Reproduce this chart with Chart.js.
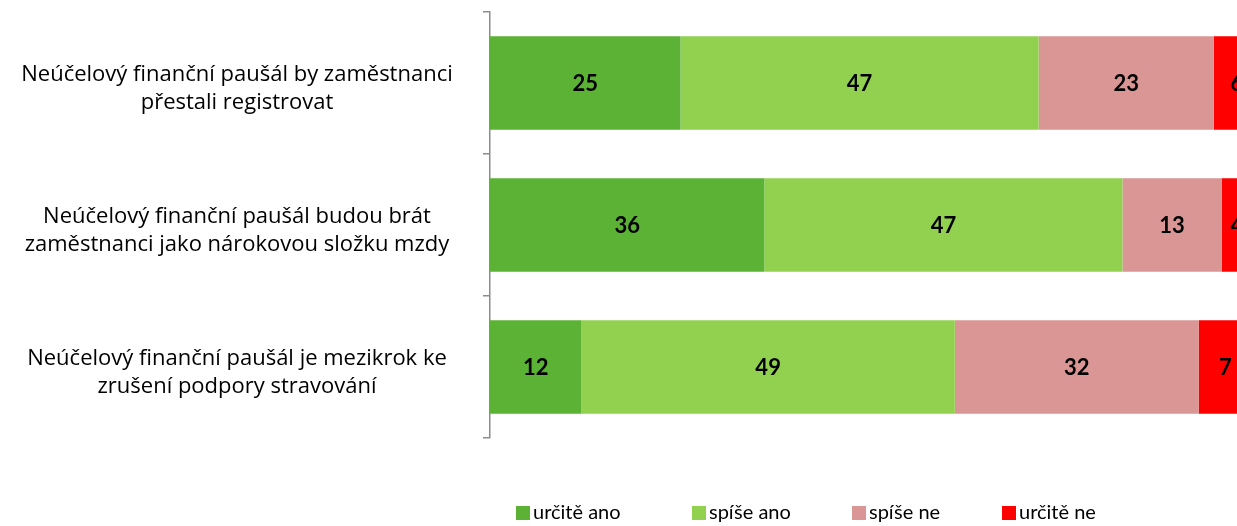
<!DOCTYPE html>
<html>
<head>
<meta charset="utf-8">
<script src="https://cdn.jsdelivr.net/npm/chart.js@4/dist/chart.umd.min.js"></script>
<style>
  html, body { margin: 0; padding: 0; background: #fff; overflow: hidden; }
  #wrap { width: 1260px; height: 526px; }
</style>
</head>
<body>
<div id="wrap"><canvas id="c"></canvas></div>
<script>
var categories = [
    ['Neúčelový finanční paušál by zaměstnanci', 'přestali registrovat'],
    ['Neúčelový finanční paušál budou brát', 'zaměstnanci jako nárokovou složku mzdy'],
    ['Neúčelový finanční paušál je mezikrok ke', 'zrušení podpory stravování']
];
var seriesNames = ['určitě ano', 'spíše ano', 'spíše ne', 'určitě ne'];
var urciteAno = [25, 36, 12];
var spiseAno = [47, 47, 49];
var spiseNe = [23, 13, 32];
var urciteNe = [6, 4, 7];
var colors = ['rgb(91,178,52)', 'rgb(146,208,80)', 'rgb(218,150,148)', 'rgb(255,0,0)'];

var CAT_FONT = 'Open Sans';
var FONT = 'Lato';
var axisWidth = 490;
var labelCenter = 237;

// tick padding so the wrapped labels are centred at labelCenter
var mctx = document.createElement('canvas').getContext('2d');
mctx.font = '22px "' + CAT_FONT + '"';
var widest = 0;
categories.forEach(function (c) {
    c.forEach(function (l) { widest = Math.max(widest, mctx.measureText(l).width); });
});
var tickPad = axisWidth - 7 - labelCenter - widest / 2;

var valueLabels = {
    id: 'valueLabels',
    afterDatasetsDraw: function (chart) {
        var ctx = chart.ctx;
        ctx.save();
        ctx.font = 'bold 22px ' + FONT;
        ctx.fillStyle = '#000';
        ctx.textAlign = 'center';
        ctx.textBaseline = 'middle';
        chart.data.datasets.forEach(function (ds, i) {
            chart.getDatasetMeta(i).data.forEach(function (bar, j) {
                ctx.fillText(ds.data[j], (bar.x + bar.base) / 2, bar.y + 1);
            });
        });
        ctx.restore();
    }
};

var legendBox = {
    id: 'legendBox',
    afterDraw: function (chart) {
        var ctx = chart.ctx;
        var xs = [516, 692, 852, 1002];
        ctx.save();
        ctx.font = '20px ' + FONT;
        ctx.textBaseline = 'middle';
        ctx.textAlign = 'left';
        chart.data.datasets.forEach(function (ds, i) {
            ctx.fillStyle = ds.backgroundColor;
            ctx.fillRect(xs[i], 506, 14, 14);
            ctx.fillStyle = '#000';
            ctx.fillText(ds.label, xs[i] + 17, 513);
        });
        ctx.restore();
    }
};

var ctx = document.getElementById('c').getContext('2d');
var myChart = new Chart(ctx, {
    type: 'bar',
    data: {
        labels: categories,
        datasets: [
            { label: seriesNames[0], data: urciteAno, backgroundColor: colors[0] },
            { label: seriesNames[1], data: spiseAno, backgroundColor: colors[1] },
            { label: seriesNames[2], data: spiseNe, backgroundColor: colors[2] },
            { label: seriesNames[3], data: urciteNe, backgroundColor: colors[3] }
        ]
    },
    options: {
        indexAxis: 'y',
        responsive: true,
        maintainAspectRatio: false,
        animation: false,
        categoryPercentage: 1,
        barPercentage: 0.66,
        layout: { padding: { top: 12, bottom: 88, right: 8, left: 0 } },
        plugins: {
            legend: { display: false },
            tooltip: { enabled: false }
        },
        scales: {
            x: { stacked: true, min: 0, max: 100, display: false },
            y: {
                stacked: true,
                afterFit: function (scale) {
                    scale.width = axisWidth;
                    scale.paddingTop = 0;
                    scale.paddingBottom = 0;
                },
                border: { display: true, color: '#8c8c8c', width: 1.5 },
                grid: {
                    display: true,
                    offset: true,
                    drawOnChartArea: false,
                    drawTicks: true,
                    tickLength: 7,
                    color: '#8c8c8c',
                    lineWidth: 1.5
                },
                ticks: {
                    crossAlign: 'center',
                    padding: tickPad,
                    labelOffset: 6,
                    color: '#000',
                    font: { family: CAT_FONT, size: 22, lineHeight: 1.27 }
                }
            }
        }
    },
    plugins: [valueLabels, legendBox]
});
</script>
</body>
</html>
